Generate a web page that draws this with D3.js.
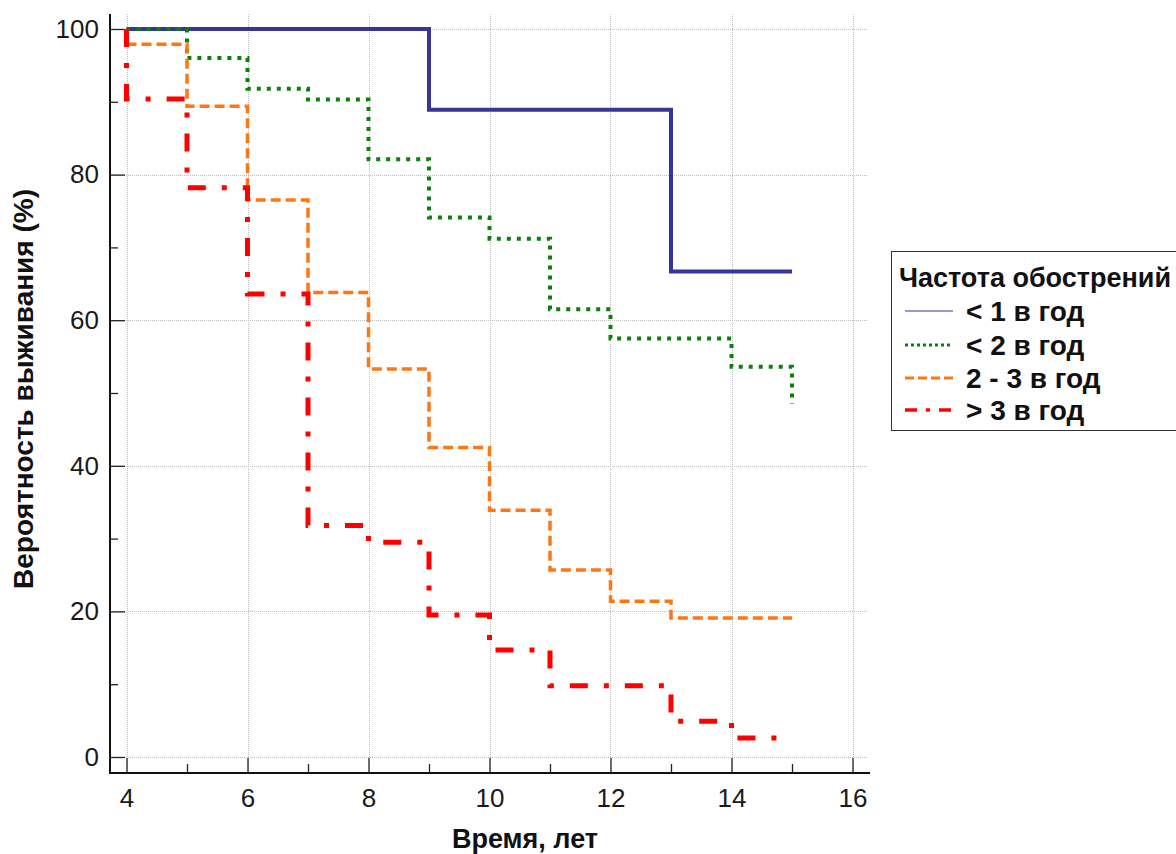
<!DOCTYPE html>
<html>
<head>
<meta charset="utf-8">
<script src="https://cdn.jsdelivr.net/npm/d3@7"></script>
<style>
  html, body { margin: 0; padding: 0; background: #fff; }
  svg { display: block; font-family: "Liberation Sans", Arial, sans-serif; }
</style>
</head>
<body>
<svg id="chart" width="1176" height="854"></svg>
<script>
// ---- Data ----
const seriesNames = ["< 1 в год", "< 2 в год", "2 - 3 в год", "> 3 в год"];
const legendTitle = "Частота обострений";
const xTitle = "Время, лет";
const yTitle = "Вероятность выживания (%)";

const blueTimes  = [4, 9, 13, 15];
const blueValues = [100, 88.9, 66.7, 66.7];

const greenTimes  = [4, 5, 6, 7, 8, 9, 10, 11, 12, 14, 15, 15];
const greenValues = [100, 96.0, 91.8, 90.3, 82.1, 74.1, 71.2, 61.5, 57.5, 53.6, 53.6, 48.5];

const orangeTimes  = [4, 5, 6, 7, 8, 9, 10, 11, 12, 13, 15];
const orangeValues = [97.9, 89.4, 76.5, 63.8, 53.3, 42.5, 33.9, 25.7, 21.4, 19.1, 19.1];

const redTimes  = [4, 4, 5, 6, 7, 8, 9, 10, 11, 13, 14, 15];
const redValues = [100, 90.4, 78.2, 63.6, 31.8, 29.5, 19.5, 14.7, 9.8, 4.9, 2.6, 2.6];

const xMajorTicks = [4, 6, 8, 10, 12, 14, 16];
const xMinorTicks = [5, 7, 9, 11, 13, 15];
const yMajorTicks = [0, 20, 40, 60, 80, 100];
const yMinorTicks = [10, 30, 50, 70, 90];

// ---- Styles ----
const styles = [
  { color: "#35359a", width: 4,   dash: null },
  { color: "#0b800b", width: 4,   dash: "4,6" },
  { color: "#ff7614", width: 3.5, dash: "10,5" },
  { color: "#ff0000", width: 5,   dash: "18,16,5,16" }
];
const series = [
  { t: blueTimes,   v: blueValues },
  { t: greenTimes,  v: greenValues },
  { t: orangeTimes, v: orangeValues },
  { t: redTimes,    v: redValues }
];

const svg = d3.select("#chart");
const x = d3.scaleLinear().domain([4, 16]).range([126.5, 852.5]);
const y = d3.scaleLinear().domain([0, 100]).range([757, 29]);

const axisLeftX = 110, axisBottomY = 773, plotTop = 14, plotRight = 869;

// gridlines
const grid = svg.append("g").attr("stroke", "#bdbdbd").attr("stroke-width", 1)
  .attr("stroke-dasharray", "1,1");
grid.selectAll("line.v").data(xMajorTicks).join("line")
  .attr("x1", d => Math.round(x(d)) + 0.5).attr("x2", d => Math.round(x(d)) + 0.5)
  .attr("y1", plotTop).attr("y2", axisBottomY);
grid.selectAll("line.h").data(yMajorTicks).join("line")
  .attr("y1", d => Math.round(y(d)) + 0.5).attr("y2", d => Math.round(y(d)) + 0.5)
  .attr("x1", axisLeftX).attr("x2", plotRight - 2);

// axes
const fontSize = 26;
const xAxisMajor = d3.axisBottom(x).tickValues(xMajorTicks).tickSizeInner(-15).tickSizeOuter(0).tickPadding(16);
const xAxisMinor = d3.axisBottom(x).tickValues(xMinorTicks).tickSizeInner(-9).tickSizeOuter(0).tickFormat("");
const yAxisMajor = d3.axisLeft(y).tickValues(yMajorTicks).tickSizeInner(-15).tickSizeOuter(0).tickPadding(11);
const yAxisMinor = d3.axisLeft(y).tickValues(yMinorTicks).tickSizeInner(-8).tickSizeOuter(0).tickFormat("");

function styleAxis(g) {
  g.select(".domain").remove();
  g.selectAll(".tick line").attr("stroke", "#222").attr("stroke-width", 1.3);
  g.selectAll(".tick text").attr("fill", "#1a1a1a").style("font-size", fontSize + "px")
    .style("font-family", "'Liberation Sans', Arial, sans-serif");
}
svg.append("g").attr("transform", `translate(0,${axisBottomY})`).call(xAxisMajor).call(styleAxis);
svg.append("g").attr("transform", `translate(0,${axisBottomY})`).call(xAxisMinor).call(styleAxis);
svg.append("g").attr("transform", `translate(${axisLeftX},0)`).call(yAxisMajor).call(styleAxis);
svg.append("g").attr("transform", `translate(${axisLeftX},0)`).call(yAxisMinor).call(styleAxis);

// axis lines
svg.append("line").attr("x1", axisLeftX).attr("x2", axisLeftX).attr("y1", plotTop).attr("y2", axisBottomY)
  .attr("stroke", "#111").attr("stroke-width", 2);
svg.append("line").attr("x1", axisLeftX - 1).attr("x2", plotRight + 1).attr("y1", axisBottomY).attr("y2", axisBottomY)
  .attr("stroke", "#111").attr("stroke-width", 2);

// series
const line = d3.line().x(d => x(d[0])).y(d => y(d[1])).curve(d3.curveStepAfter);
series.forEach((s, i) => {
  const pts = s.t.map((t, j) => [t, s.v[j]]);
  svg.append("path").datum(pts).attr("d", line)
    .attr("fill", "none").attr("stroke", styles[i].color).attr("stroke-width", styles[i].width)
    .attr("stroke-dasharray", styles[i].dash).attr("stroke-linejoin", "miter");
});

// axis titles
svg.append("text").attr("x", 525).attr("y", 848).attr("text-anchor", "middle")
  .style("font-size", "27px").style("font-weight", "bold").attr("fill", "#111").text(xTitle);
svg.append("text").attr("transform", "translate(33,389) rotate(-90)").attr("text-anchor", "middle")
  .style("font-size", "28px").style("font-weight", "bold").attr("fill", "#111").text(yTitle);

// legend
const lg = svg.append("g");
lg.append("rect").attr("x", 891.5).attr("y", 251.5).attr("width", 300).attr("height", 179)
  .attr("fill", "#fff").attr("stroke", "#333").attr("stroke-width", 1);
lg.append("text").attr("x", 899).attr("y", 287).style("font-size", "27px").style("font-weight", "bold")
  .attr("fill", "#111").text(legendTitle);
const rowY = [311, 345, 378, 410];
seriesNames.forEach((name, i) => {
  const legendWidth = i === 0 ? 1.5 : (i === 3 ? 3.5 : 3);
  lg.append("line").attr("x1", 905).attr("x2", 953).attr("y1", rowY[i]).attr("y2", rowY[i])
    .attr("stroke", i === 0 ? "#7777bb" : styles[i].color).attr("stroke-width", legendWidth)
    .attr("stroke-dasharray", i === 1 ? "3,3" : (i === 2 ? "9,4" : (i === 3 ? "12,9,4,9" : null)));
  lg.append("text").attr("x", 966).attr("y", rowY[i] + 10).style("font-size", "28px").style("font-weight", "bold")
    .attr("fill", "#111").text(name);
});
</script>
</body>
</html>
